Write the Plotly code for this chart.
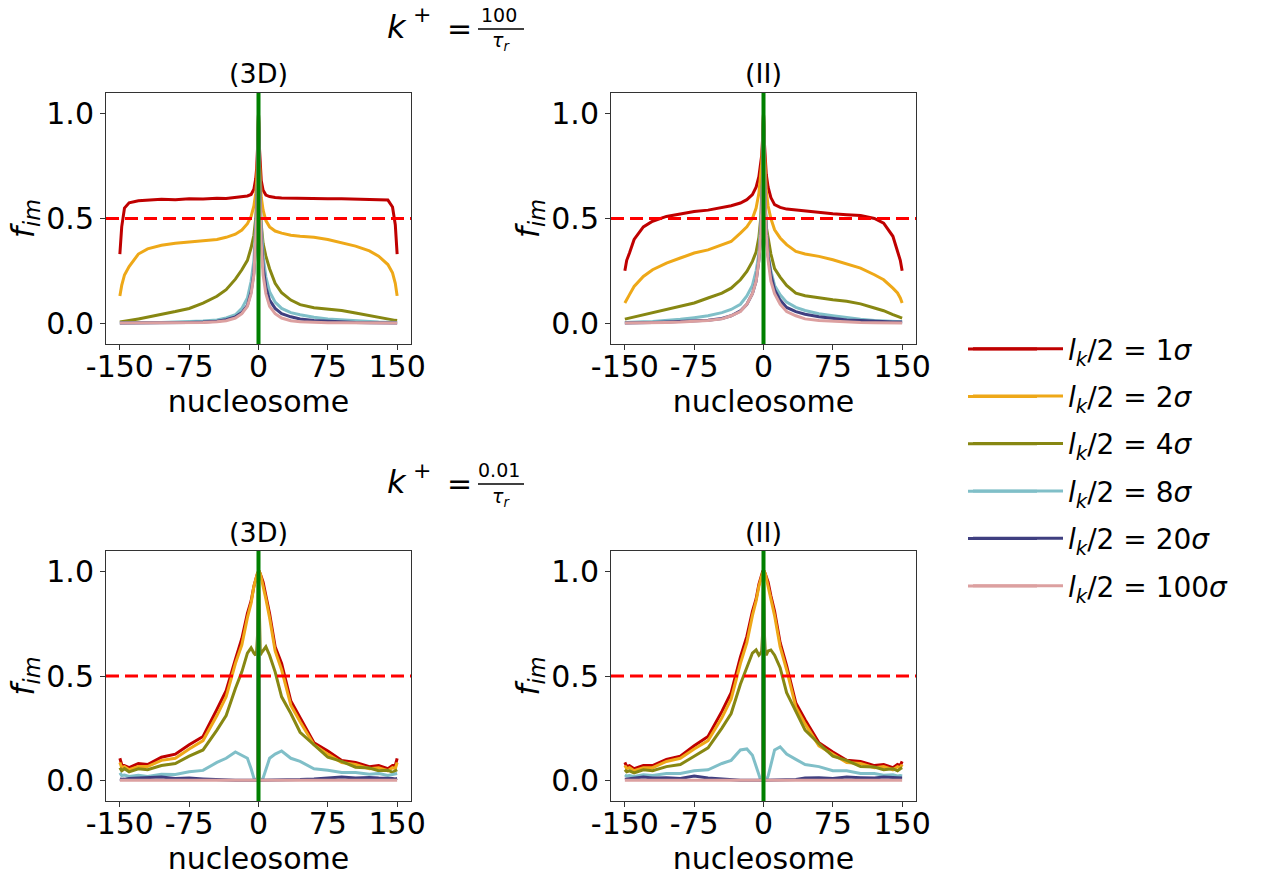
import plotly.graph_objects as go
from plotly.subplots import make_subplots

W, H = 1261, 876

# ---------------- data ----------------
X = [-150, -148, -145, -140, -130, -120, -105, -90, -75, -60, -45, -35, -25, -18, -12, -8, -5, -3, -2, -1,
     0, 1, 2, 3, 5, 8, 12, 18, 25, 35, 45, 60, 75, 90, 105, 120, 130, 140, 145, 148, 150]

SIGMAS = ["1", "2", "4", "8", "20", "100"]
COLORS = ["#BF0000", "#EEA818", "#878712", "#80BFC8", "#3F3F80", "#DCA0A0"]

# k+ = 100/tau_r, (3D)
red_3d_fast = [0.33, 0.46, 0.55, 0.575, 0.585, 0.588, 0.592, 0.590, 0.594, 0.593, 0.597, 0.596, 0.600, 0.603, 0.608, 0.615, 0.64, 0.69, 0.74, 0.84,
               1.0, 0.84, 0.73, 0.68, 0.635, 0.612, 0.605, 0.600, 0.598, 0.597, 0.595, 0.596, 0.594, 0.595, 0.593, 0.592, 0.590, 0.588, 0.555, 0.47, 0.33]
orange_3d_fast = [0.13, 0.18, 0.23, 0.27, 0.33, 0.355, 0.372, 0.382, 0.388, 0.394, 0.400, 0.410, 0.425, 0.445, 0.475, 0.51, 0.56, 0.62, 0.68, 0.79,
                  1.0, 0.78, 0.66, 0.60, 0.54, 0.49, 0.46, 0.44, 0.43, 0.42, 0.415, 0.41, 0.40, 0.385, 0.368, 0.345, 0.32, 0.28, 0.24, 0.19, 0.13]
olive_3d_fast = [0.005, 0.006, 0.008, 0.012, 0.02, 0.028, 0.04, 0.055, 0.07, 0.095, 0.128, 0.16, 0.21, 0.255, 0.30, 0.36, 0.42, 0.50, 0.58, 0.72,
                 1.0, 0.70, 0.55, 0.47, 0.38, 0.32, 0.26, 0.19, 0.145, 0.11, 0.088, 0.073, 0.067, 0.06, 0.048, 0.035, 0.025, 0.018, 0.015, 0.013, 0.012]
lblue_3d_fast = [0.0, 0.0, 0.0, 0.0, 0.001, 0.002, 0.003, 0.005, 0.007, 0.01, 0.015, 0.025, 0.04, 0.07, 0.12, 0.20, 0.30, 0.45, 0.55, 0.70,
                 1.0, 0.70, 0.56, 0.46, 0.32, 0.22, 0.15, 0.10, 0.07, 0.05, 0.04, 0.028, 0.02, 0.015, 0.01, 0.007, 0.005, 0.004, 0.003, 0.003, 0.003]
navy_3d_fast = [0.0, 0.0, 0.0, 0.0, 0.0, 0.001, 0.001, 0.002, 0.003, 0.005, 0.009, 0.016, 0.03, 0.05, 0.085, 0.15, 0.24, 0.39, 0.51, 0.68,
                1.0, 0.68, 0.52, 0.41, 0.27, 0.17, 0.11, 0.07, 0.045, 0.03, 0.02, 0.012, 0.008, 0.005, 0.003, 0.002, 0.001, 0.001, 0.0, 0.0, 0.0]
pink_3d_fast = [0.0, 0.0, 0.0, 0.0, 0.0, 0.0, 0.001, 0.001, 0.002, 0.003, 0.006, 0.011, 0.024, 0.045, 0.08, 0.14, 0.23, 0.38, 0.50, 0.68,
                1.0, 0.68, 0.50, 0.38, 0.23, 0.14, 0.08, 0.045, 0.024, 0.011, 0.006, 0.003, 0.002, 0.001, 0.001, 0.0, 0.0, 0.0, 0.0, 0.0, 0.0]

# k+ = 100/tau_r, (II)
red_ii_fast = [0.25, 0.30, 0.335, 0.40, 0.46, 0.487, 0.51, 0.523, 0.533, 0.54, 0.553, 0.561, 0.574, 0.59, 0.614, 0.65, 0.70, 0.76, 0.80, 0.88,
               1.0, 0.86, 0.77, 0.71, 0.65, 0.60, 0.566, 0.553, 0.545, 0.54, 0.535, 0.53, 0.523, 0.518, 0.514, 0.50, 0.478, 0.415, 0.35, 0.30, 0.25]
orange_ii_fast = [0.096, 0.115, 0.136, 0.175, 0.223, 0.255, 0.287, 0.311, 0.335, 0.35, 0.372, 0.39, 0.43, 0.46, 0.50, 0.55, 0.62, 0.70, 0.76, 0.85,
                  1.0, 0.82, 0.70, 0.63, 0.56, 0.50, 0.446, 0.407, 0.375, 0.343, 0.33, 0.319, 0.303, 0.284, 0.263, 0.231, 0.207, 0.167, 0.144, 0.12, 0.096]
olive_ii_fast = [0.019, 0.021, 0.025, 0.029, 0.04, 0.048, 0.064, 0.08, 0.096, 0.12, 0.143, 0.167, 0.207, 0.247, 0.295, 0.34, 0.41, 0.50, 0.58, 0.72,
                 1.0, 0.72, 0.55, 0.46, 0.40, 0.33, 0.26, 0.22, 0.18, 0.143, 0.131, 0.12, 0.112, 0.104, 0.092, 0.072, 0.059, 0.04, 0.03, 0.027, 0.024]
lblue_ii_fast = [0.003, 0.003, 0.004, 0.005, 0.006, 0.008, 0.012, 0.018, 0.026, 0.035, 0.05, 0.065, 0.09, 0.13, 0.18, 0.25, 0.33, 0.45, 0.55, 0.70,
                 1.0, 0.70, 0.55, 0.45, 0.33, 0.25, 0.18, 0.135, 0.10, 0.075, 0.06, 0.045, 0.035, 0.025, 0.018, 0.012, 0.009, 0.007, 0.006, 0.006, 0.006]
navy_ii_fast = [0.0, 0.0, 0.0, 0.001, 0.002, 0.003, 0.005, 0.007, 0.01, 0.014, 0.022, 0.035, 0.058, 0.09, 0.14, 0.20, 0.30, 0.42, 0.53, 0.68,
                1.0, 0.68, 0.54, 0.44, 0.32, 0.23, 0.16, 0.11, 0.075, 0.055, 0.042, 0.03, 0.022, 0.015, 0.012, 0.008, 0.006, 0.005, 0.005, 0.005, 0.005]
pink_ii_fast = [0.0, 0.0, 0.0, 0.0, 0.001, 0.002, 0.003, 0.005, 0.008, 0.012, 0.02, 0.035, 0.055, 0.09, 0.14, 0.20, 0.30, 0.42, 0.53, 0.68,
                1.0, 0.68, 0.53, 0.42, 0.30, 0.20, 0.14, 0.09, 0.055, 0.035, 0.02, 0.012, 0.008, 0.005, 0.003, 0.002, 0.001, 0.0, 0.0, 0.0, 0.0]

# k+ = 0.01/tau_r, (3D)
red_3d_slow = [0.105, 0.075, 0.07, 0.06, 0.08, 0.075, 0.11, 0.125, 0.17, 0.21, 0.34, 0.43, 0.58, 0.68, 0.80, 0.86, 0.93, 0.97, 0.985, 0.995,
               1.0, 1.0, 0.99, 0.975, 0.95, 0.885, 0.80, 0.64, 0.56, 0.38, 0.30, 0.18, 0.14, 0.095, 0.085, 0.065, 0.07, 0.055, 0.07, 0.07, 0.105]
orange_3d_slow = [0.085, 0.06, 0.065, 0.05, 0.065, 0.065, 0.095, 0.105, 0.15, 0.19, 0.31, 0.40, 0.56, 0.65, 0.78, 0.85, 0.93, 0.97, 0.985, 0.995,
                  1.0, 1.0, 0.99, 0.97, 0.94, 0.87, 0.78, 0.62, 0.53, 0.36, 0.28, 0.17, 0.125, 0.085, 0.075, 0.055, 0.06, 0.045, 0.06, 0.055, 0.085]
olive_3d_slow = [0.06, 0.045, 0.055, 0.04, 0.055, 0.05, 0.07, 0.08, 0.115, 0.145, 0.24, 0.31, 0.44, 0.52, 0.61, 0.635, 0.61, 0.60, 0.62, 0.70,
                 1.0, 0.68, 0.60, 0.61, 0.62, 0.64, 0.60, 0.52, 0.40, 0.32, 0.23, 0.17, 0.11, 0.09, 0.062, 0.058, 0.045, 0.048, 0.038, 0.045, 0.05]
lblue_3d_slow = [0.035, 0.022, 0.025, 0.018, 0.024, 0.018, 0.028, 0.027, 0.04, 0.047, 0.085, 0.105, 0.135, 0.12, 0.105, 0.055, 0.01, 0.0, 0.0, 0.0,
                 1.0, 0.0, 0.0, 0.0, 0.01, 0.05, 0.105, 0.125, 0.14, 0.105, 0.09, 0.055, 0.048, 0.037, 0.037, 0.028, 0.032, 0.023, 0.027, 0.028, 0.032]
navy_3d_slow = [0.006, 0.004, 0.005, 0.008, 0.01, 0.012, 0.015, 0.008, 0.01, 0.006, 0.002, 0.0, 0.0, 0.0, 0.0, 0.0, 0.0, 0.0, 0.0, 0.0,
                1.0, 0.0, 0.0, 0.0, 0.0, 0.0, 0.0, 0.0, 0.0, 0.0, 0.003, 0.006, 0.012, 0.015, 0.01, 0.013, 0.01, 0.01, 0.008, 0.006, 0.008]
pink_3d_slow = [0.0, 0.0, 0.0, 0.0, 0.0, 0.0, 0.0, 0.0, 0.0, 0.0, 0.0, 0.0, 0.0, 0.0, 0.0, 0.0, 0.0, 0.0, 0.0, 0.0,
                1.0, 0.0, 0.0, 0.0, 0.0, 0.0, 0.0, 0.0, 0.0, 0.0, 0.0, 0.0, 0.0, 0.0, 0.0, 0.0, 0.0, 0.0, 0.0, 0.0, 0.0]

# k+ = 0.01/tau_r, (II)
red_ii_slow = [0.085, 0.065, 0.07, 0.055, 0.07, 0.07, 0.10, 0.115, 0.165, 0.21, 0.33, 0.42, 0.59, 0.69, 0.81, 0.87, 0.94, 0.975, 0.99, 1.0,
               1.0, 1.0, 0.99, 0.975, 0.95, 0.885, 0.81, 0.66, 0.55, 0.37, 0.29, 0.18, 0.135, 0.095, 0.09, 0.07, 0.075, 0.06, 0.075, 0.07, 0.09]
orange_ii_slow = [0.07, 0.055, 0.06, 0.045, 0.06, 0.06, 0.09, 0.105, 0.15, 0.19, 0.30, 0.39, 0.56, 0.66, 0.79, 0.86, 0.93, 0.97, 0.985, 0.995,
                  1.0, 1.0, 0.99, 0.97, 0.94, 0.865, 0.79, 0.64, 0.53, 0.35, 0.27, 0.165, 0.125, 0.085, 0.08, 0.06, 0.065, 0.05, 0.065, 0.06, 0.075]
olive_ii_slow = [0.05, 0.04, 0.045, 0.035, 0.05, 0.045, 0.065, 0.075, 0.115, 0.155, 0.25, 0.32, 0.46, 0.54, 0.61, 0.625, 0.60, 0.61, 0.62, 0.70,
                 1.0, 0.70, 0.61, 0.60, 0.62, 0.625, 0.60, 0.54, 0.42, 0.33, 0.24, 0.175, 0.115, 0.095, 0.065, 0.063, 0.05, 0.055, 0.045, 0.055, 0.06]
lblue_ii_slow = [0.025, 0.02, 0.022, 0.018, 0.026, 0.022, 0.032, 0.032, 0.045, 0.05, 0.08, 0.095, 0.145, 0.15, 0.12, 0.065, 0.02, 0.0, 0.0, 0.0,
                 1.0, 0.0, 0.0, 0.0, 0.02, 0.08, 0.145, 0.16, 0.125, 0.10, 0.075, 0.065, 0.045, 0.045, 0.032, 0.032, 0.024, 0.026, 0.02, 0.022, 0.02]
navy_ii_slow = [0.005, 0.006, 0.01, 0.012, 0.015, 0.01, 0.012, 0.008, 0.02, 0.01, 0.005, 0.0, 0.0, 0.0, 0.0, 0.0, 0.0, 0.0, 0.0, 0.0,
                1.0, 0.0, 0.0, 0.0, 0.0, 0.0, 0.0, 0.0, 0.0, 0.003, 0.01, 0.012, 0.008, 0.015, 0.012, 0.01, 0.015, 0.012, 0.01, 0.008, 0.01]
pink_ii_slow = [0.0, 0.0, 0.0, 0.0, 0.0, 0.0, 0.0, 0.0, 0.0, 0.0, 0.0, 0.0, 0.0, 0.0, 0.0, 0.0, 0.0, 0.0, 0.0, 0.0,
                1.0, 0.0, 0.0, 0.0, 0.0, 0.0, 0.0, 0.0, 0.0, 0.0, 0.0, 0.0, 0.0, 0.0, 0.0, 0.0, 0.0, 0.0, 0.0, 0.0, 0.0]

X_TICKS = [-150, -75, 0, 75, 150]
X_TICKTEXT = ["-150", "-75", "0", "75", "150"]
Y_TICKS = [0.0, 0.5, 1.0]
Y_TICKTEXT = ["0.0", "0.5", "1.0"]
PANEL_TITLES = ["(3D)", "(II)", "(3D)", "(II)"]
THRESHOLD = 0.5

PANELS = [
    (1, 1, [red_3d_fast, orange_3d_fast, olive_3d_fast, lblue_3d_fast, navy_3d_fast, pink_3d_fast]),
    (1, 2, [red_ii_fast, orange_ii_fast, olive_ii_fast, lblue_ii_fast, navy_ii_fast, pink_ii_fast]),
    (2, 1, [red_3d_slow, orange_3d_slow, olive_3d_slow, lblue_3d_slow, navy_3d_slow, pink_3d_slow]),
    (2, 2, [red_ii_slow, orange_ii_slow, olive_ii_slow, lblue_ii_slow, navy_ii_slow, pink_ii_slow]),
]

# ---------------- figure ----------------
FONT = "DejaVu Sans"


def px(x):
    return x / W


def py(y):
    return 1 - y / H


COL_DOM = [[px(106), px(411)], [px(611), px(916)]]
ROW_DOM = [[py(344), py(93)], [py(801), py(551)]]

fig = make_subplots(rows=2, cols=2)

for (r, c, series) in PANELS:
    for i, ys in enumerate(series):
        fig.add_trace(go.Scatter(
            x=X, y=ys, mode="lines",
            line=dict(color=COLORS[i], width=3),
            name=f"<i>l</i><sub><i>k</i></sub>/2 = {SIGMAS[i]}<i>σ</i>",
            legendgroup=f"g{i}",
            showlegend=(r == 1 and c == 1),
            hoverinfo="skip",
        ), row=r, col=c)

axis_common = dict(showline=True, mirror=True, linecolor="#333333", linewidth=1,
                   ticks="outside", ticklen=5, tickwidth=1, tickcolor="#333333",
                   showgrid=False, zeroline=False, automargin=False,
                   tickfont=dict(family=FONT, size=30, color="black"))

shapes = []
annotations = []
for k, (r, c, _) in enumerate(PANELS):
    idx = (r - 1) * 2 + c
    xs = "" if idx == 1 else str(idx)
    fig.layout[f"xaxis{xs}"].update(
        domain=COL_DOM[c - 1], range=[-165, 165], tickmode="array",
        tickvals=X_TICKS, ticktext=X_TICKTEXT, ticklabelstandoff=-9,
        title=dict(text="nucleosome", font=dict(family=FONT, size=30, color="black"), standoff=4),
        **axis_common)
    fig.layout[f"yaxis{xs}"].update(
        domain=ROW_DOM[r - 1], range=[-0.1, 1.1], tickmode="array",
        tickvals=Y_TICKS, ticktext=Y_TICKTEXT,
        title=dict(text="<i>f</i><sub><i>im</i></sub>", font=dict(family=FONT, size=32, color="black"), standoff=2),
        **axis_common)
    # threshold dashed line
    shapes.append(dict(type="line", xref=f"x{xs} domain", yref=f"y{xs}", x0=0, x1=1,
                       y0=THRESHOLD, y1=THRESHOLD, line=dict(color="#FF0000", width=3, dash="13px,6px")))
    # tagged nucleosome
    shapes.append(dict(type="line", xref=f"x{xs}", yref=f"y{xs} domain", x0=0, x1=0,
                       y0=0, y1=1, line=dict(color="#008000", width=4)))
    # panel title
    annotations.append(dict(text=PANEL_TITLES[k], xref="paper", yref="paper",
                            x=sum(COL_DOM[c - 1]) / 2, y=ROW_DOM[r - 1][1] + 19 / H,
                            xanchor="center", yanchor="middle", showarrow=False,
                            font=dict(family=FONT, size=27, color="black")))

# super titles  k+ = 100/tau_r  and  k+ = 0.01/tau_r
for dy, num in [(0, "100"), (455, "0.01")]:
    annotations += [
        dict(text="<i>k</i>", x=px(397), y=py(27 + dy), xanchor="center", yanchor="middle", font=dict(family=FONT, size=32, color="black")),
        dict(text="+", x=px(422), y=py(15 + dy), xanchor="center", yanchor="middle", font=dict(family=FONT, size=22, color="black")),
        dict(text="=", x=px(459), y=py(28 + dy), xanchor="center", yanchor="middle"),
        dict(text=num, x=px(499), y=py(15 + dy), xanchor="center", yanchor="middle", font=dict(family=FONT, size=19, color="black")),
        dict(text="<i>τ</i><sub><i>r</i></sub>", x=px(501), y=py(42 + dy), xanchor="center", yanchor="middle", font=dict(family=FONT, size=19, color="black")),
    ]
    shapes.append(dict(type="line", xref="paper", yref="paper", x0=px(478), x1=px(524),
                       y0=py(29 + dy), y1=py(29 + dy), line=dict(color="black", width=1.3)))

# legend geometry: plotly item height = 1.3*font + 3, plus group gap
LEG_FONT = 28
LEG_STEP = 47.4
LEG_GAP = LEG_STEP - (LEG_FONT * 1.3 + 3)
LEG_CENTER = 467.5
# longer legend line samples (matching the reference legend handle length)
for i in range(len(SIGMAS)):
    yy = LEG_CENTER + (i - 2.5) * LEG_STEP
    shapes.append(dict(type="line", xref="paper", yref="paper", x0=px(968), x1=px(1037),
                       y0=py(yy), y1=py(yy), line=dict(color=COLORS[i], width=3)))

for a in annotations:
    a.setdefault("xref", "paper")
    a.setdefault("yref", "paper")
    a.setdefault("showarrow", False)
    a.setdefault("font", dict(family=FONT, size=30, color="black"))

fig.update_layout(
    width=W, height=H,
    margin=dict(l=0, r=0, t=0, b=0),
    paper_bgcolor="white", plot_bgcolor="white",
    font=dict(family=FONT, color="black"),
    shapes=shapes, annotations=annotations,
    showlegend=True,
    legend=dict(x=px(968), y=py(LEG_CENTER), xanchor="left", yanchor="middle",
                font=dict(family=FONT, size=LEG_FONT, color="black"),
                bgcolor="rgba(0,0,0,0)", borderwidth=0,
                tracegroupgap=LEG_GAP, itemwidth=90, itemclick=False),
)

fig.write_html("out.html")
